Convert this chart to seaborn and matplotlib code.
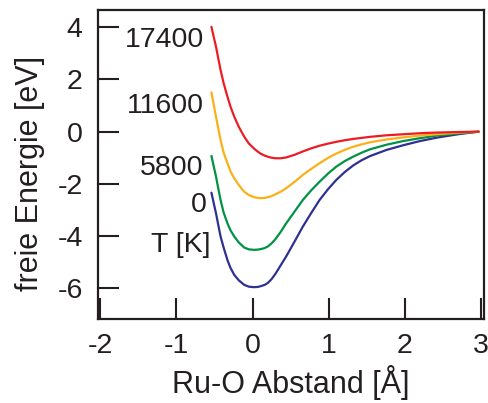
import pandas as pd
import matplotlib
matplotlib.use('Agg')
import matplotlib.pyplot as plt
import seaborn as sns

# Ru-O Abstand [Å]
abstand = [-0.54, -0.51, -0.48, -0.45, -0.42, -0.38, -0.33, -0.29, -0.24, -0.18,
           -0.11, -0.05, 0.02, 0.07, 0.11, 0.16, 0.2, 0.25, 0.3, 0.37,
           0.44, 0.55, 0.66, 0.77, 0.88, 0.99, 1.1, 1.21, 1.32, 1.43,
           1.54, 1.76, 1.98, 2.2, 2.42, 2.7, 2.97]

# freie Energie [eV] per temperature
energie_0 = [-2.34, -2.74, -3.13, -3.58, -4.02, -4.44, -4.92, -5.22, -5.49, -5.70,
             -5.87, -5.94, -5.96, -5.95, -5.92, -5.87, -5.80, -5.65, -5.45, -5.12,
             -4.79, -4.22, -3.64, -3.12, -2.62, -2.21, -1.85, -1.55, -1.30, -1.10,
             -0.94, -0.70, -0.52, -0.36, -0.23, -0.10, 0.0]
energie_5800 = [-0.93, -1.33, -1.72, -2.18, -2.62, -3.10, -3.51, -3.78, -4.02, -4.25,
                -4.44, -4.51, -4.53, -4.52, -4.50, -4.46, -4.40, -4.28, -4.12, -3.84,
                -3.52, -3.07, -2.62, -2.25, -1.92, -1.61, -1.34, -1.13, -0.96, -0.81,
                -0.68, -0.50, -0.36, -0.25, -0.15, -0.07, 0.0]
energie_11600 = [1.50, 1.03, 0.57, 0.12, -0.32, -0.80, -1.21, -1.52, -1.79, -2.05,
                 -2.30, -2.43, -2.51, -2.54, -2.55, -2.54, -2.51, -2.47, -2.40, -2.30,
                 -2.17, -1.93, -1.66, -1.43, -1.21, -1.01, -0.84, -0.70, -0.58, -0.49,
                 -0.41, -0.30, -0.22, -0.15, -0.10, -0.04, 0.0]
energie_17400 = [4.02, 3.63, 3.26, 2.80, 2.36, 1.86, 1.34, 0.96, 0.57, 0.18,
                 -0.19, -0.45, -0.65, -0.77, -0.85, -0.92, -0.96, -1.00, -1.02, -1.02,
                 -0.99, -0.89, -0.76, -0.64, -0.54, -0.46, -0.39, -0.33, -0.28, -0.24,
                 -0.20, -0.14, -0.10, -0.06, -0.035, -0.015, 0.0]

temperaturen = ['0', '5800', '11600', '17400']
farben = ['#2e3192', '#009245', '#fbb017', '#ed1c24']

df = pd.DataFrame({
    'Abstand': abstand * 4,
    'Energie': energie_0 + energie_5800 + energie_11600 + energie_17400,
    'T': [t for t in temperaturen for _ in abstand],
})

sns.set_theme(style="white")
plt.rcParams['font.family'] = ['Liberation Sans', 'DejaVu Sans']
plt.rcParams['axes.unicode_minus'] = False
plt.rcParams['text.color'] = '#231f20'
plt.rcParams['axes.labelcolor'] = '#231f20'

fig = plt.figure(figsize=(4.89, 4.03), dpi=100)
ax = fig.add_axes([0.2004, 0.2084, 0.7894, 0.7667])

sns.lineplot(data=df, x='Abstand', y='Energie', hue='T', hue_order=temperaturen,
             palette=farben, legend=False, linewidth=1.6, sort=False,
             estimator=None, ax=ax)

# temperature labels next to the curves
label_pos = {'17400': (-0.64, 3.51), '11600': (-0.64, 0.98),
             '5800': (-0.64, -1.39), '0': (-0.60, -2.81)}
for t in temperaturen:
    ax.text(*label_pos[t], t, ha='right', va='center', fontsize=20.5)
ax.text(-0.55, -4.34, 'T [K]', ha='right', va='center', fontsize=20.5)

ax.set_xlim(-2.03, 3.04)
ax.set_ylim(-7.18, 4.66)
ax.set_xticks([-2, -1, 0, 1, 2, 3])
ax.set_yticks([-6, -4, -2, 0, 2, 4])

for s in ax.spines.values():
    s.set_color('#231f20')
    s.set_linewidth(1.6)

ax.tick_params(bottom=True, left=True, top=False, right=False, direction='in',
               length=15, width=1.5, colors='#231f20', labelsize=20.5)
ax.tick_params(axis='x', pad=10)
ax.tick_params(axis='y', pad=11)

ax.set_xlabel('Ru-O Abstand [Å]', fontsize=22)
ax.set_ylabel('freie Energie [eV]', fontsize=22)
ax.xaxis.set_label_coords(0.5, -0.15)
ax.yaxis.set_label_coords(-0.137, 0.47)

fig.savefig('out.png', dpi=100)
